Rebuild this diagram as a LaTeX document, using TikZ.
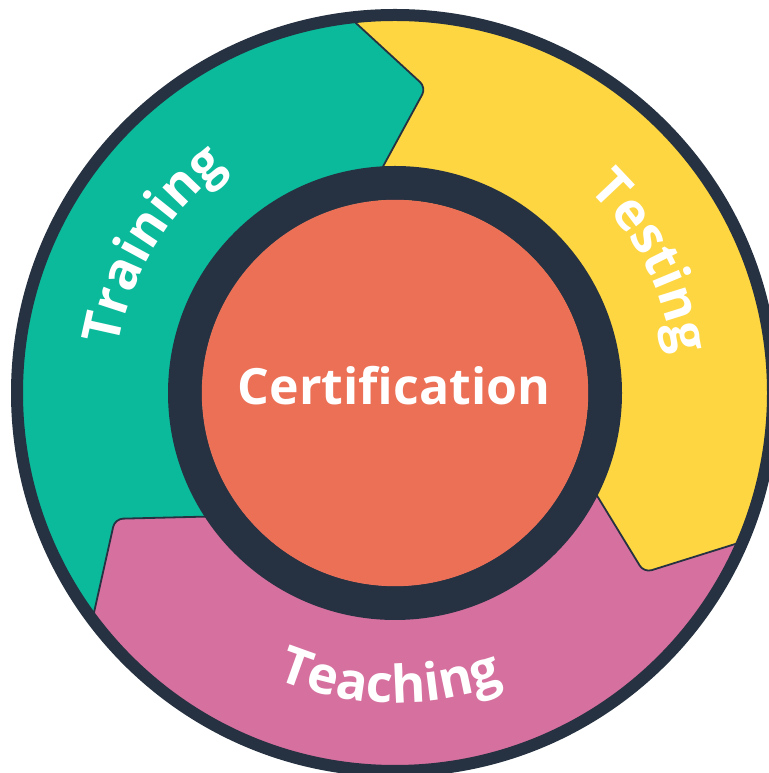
\documentclass[tikz,border=0pt]{standalone}
\usepackage{fontspec}
\setmainfont{Open Sans}
\usetikzlibrary{decorations.text,calc}
\definecolor{ttgreen}{RGB}{11,186,155}
\definecolor{ttyellow}{RGB}{254,214,65}
\definecolor{ttpink}{RGB}{213,112,159}
\definecolor{ttorange}{RGB}{236,112,86}
\definecolor{ttdark}{RGB}{38,50,66}
\newcommand\arcfont{\bfseries\fontsize{52}{60}\selectfont}
\tikzset{
  segline/.style={draw=ttdark, line width=1.8pt, rounded corners=8pt},
  arctext/.style={decorate, decoration={text along path, text align=center, text color=white, text={|\arcfont|#1}}}
}
\begin{document}
\begin{tikzpicture}[x=1pt,y=1pt]
\useasboundingbox (0,0) rectangle (768,773);
\begin{scope}[shift={(395,380)}]
  \begin{scope}
    \clip (0,0) circle[radius=380];
    \foreach \a/\col in {-27/ttyellow, -147/ttpink, 93/ttgreen}{
      \pgfmathsetmacro\b{\a+120}
      \fill[\col, rounded corners=8pt]
        ($({\a-8.8}:307)!1.5!({\a+3.3}:374)$) -- ({\a-8.8}:307) -- ($({\a-8.8}:307)!1.3!(\a:227)$)
        -- (0,0)
        -- ($({\b-8.8}:307)!1.3!(\b:227)$) -- ({\b-8.8}:307) -- ($({\b-8.8}:307)!1.5!({\b+3.3}:374)$)
        -- ({\b+3.3}:700) -- ({\a+60}:700) -- ({\a+3.3}:700) -- cycle;
    }
    \foreach \a in {-27, -147, 93}{
      \draw[segline] ($({\a-8.8}:307)!1.3!(\a:227)$) -- ({\a-8.8}:307) -- ($({\a-8.8}:307)!1.5!({\a+3.3}:374)$);
    }
  \end{scope}
  \draw[ttdark, line width=34pt] (0,0) circle[radius=210];
  \fill[ttorange] (0,0) circle[radius=193.2];
  \draw[ttdark, line width=12pt] (0,0) circle[radius=378];
  \node[anchor=base, text=white, font=\bfseries\fontsize{50}{60}\selectfont, inner sep=0pt] (cert) at (-1,-12) {Certification};
  \path[arctext=Training] (178.6:281) arc[start angle=178.6, end angle=118.6, radius=281];
  \path[arctext=Testing] (57.2:281) arc[start angle=57.2, end angle=-2.8, radius=281];
  \path[arctext=Teaching] (239:310) arc[start angle=239, end angle=299, radius=310];
\end{scope}
\end{tikzpicture}
\end{document}
